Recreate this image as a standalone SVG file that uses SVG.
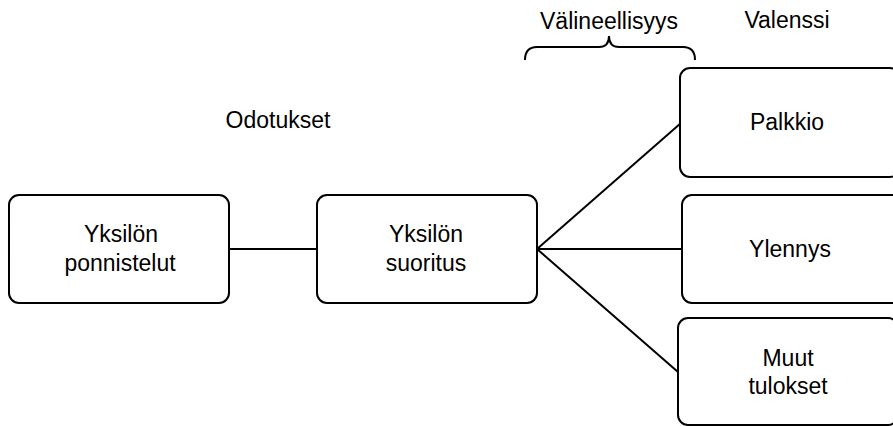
<svg xmlns="http://www.w3.org/2000/svg" width="893" height="426" viewBox="0 0 893 426">
<style>
.box{fill:#fff;stroke:#000;stroke-width:2}
.t{font-family:"Liberation Sans","Noto Sans",sans-serif;font-size:23px;fill:#000;text-anchor:middle}
.c{stroke:#000;stroke-width:2;fill:none}
</style>
<rect width="893" height="426" fill="#fff"/>
<g id="connectors">
<line class="c" x1="230" y1="249" x2="317" y2="249"/>
<line class="c" x1="537" y1="249" x2="681" y2="123"/>
<line class="c" x1="537" y1="249" x2="682" y2="249"/>
<line class="c" x1="537" y1="249" x2="678" y2="372"/>
<path class="c" d="M525,60 Q525,47 537,47 L599,47 Q609,47 609,36 Q609,47 619,47 L683,47 Q695,47 695,60" stroke-width="1.5"/>
</g>
<g id="labels">
<text class="t" transform="translate(609,29) scale(1,1.08)">Välineellisyys</text>
<text class="t" transform="translate(787,28) scale(1,1.08)">Valenssi</text>
<text class="t" transform="translate(278,128) scale(1,1.08)">Odotukset</text>
</g>
<g id="n1"><rect class="box" x="9" y="195" width="220" height="108" rx="10"/><text class="t" transform="translate(121,242) scale(1,1.08)">Yksilön</text><text class="t" transform="translate(120,271) scale(1,1.08)">ponnistelut</text></g>
<g id="n2"><rect class="box" x="317" y="195" width="220" height="108" rx="10"/><text class="t" transform="translate(426,242) scale(1,1.08)">Yksilön</text><text class="t" transform="translate(426,271) scale(1,1.08)">suoritus</text></g>
<g id="n3"><rect class="box" x="680" y="68" width="220" height="109" rx="10"/><text class="t" transform="translate(787,130) scale(1,1.08)">Palkkio</text></g>
<g id="n4"><rect class="box" x="682" y="195" width="220" height="108" rx="10"/><text class="t" transform="translate(790,257) scale(1,1.08)">Ylennys</text></g>
<g id="n5"><rect class="box" x="678" y="318" width="220" height="107" rx="10"/><text class="t" transform="translate(788,366) scale(1,1.08)">Muut</text><text class="t" transform="translate(788,394) scale(1,1.08)">tulokset</text></g>
</svg>
